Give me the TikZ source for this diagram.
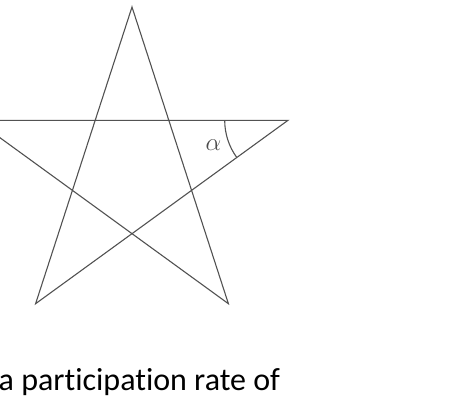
\documentclass[tikz,border=0pt]{standalone}
\usepackage{fontspec}
\newfontfamily\carlito[Ligatures={NoCommon},RawFeature={-clig}]{Carlito}
\newcommand\nolig{\kern0pt }
\begin{document}
\begin{tikzpicture}[x=1pt,y=-1pt,
  starline/.style={draw=black!68,line width=1.1pt,line join=miter},
  anglearc/.style={draw=black!68,line width=1.1pt},
  caption/.style={anchor=base west,inner sep=0pt,font=\carlito\fontsize{32}{38}\selectfont}]
\useasboundingbox (0,0) rectangle (465,404);
% regular pentagram: centre (132,171), radius 164 px
\coordinate (c) at (132,171);
\coordinate (top) at (132,7);
\coordinate (rt) at (288,120.3);
\coordinate (br) at (228.4,303.7);
\coordinate (bl) at (35.6,303.7);
\coordinate (lt) at (-24,120.3);
\begin{scope}
\clip (0,0) rectangle (465,404);
\draw[starline] (top) -- (bl) -- (rt) -- (lt) -- (br) -- cycle;
\end{scope}
\draw[anglearc] (rt) ++(180:63.3) arc[start angle=180,end angle=144,radius=63.3];
\node[text=black!70,font=\fontsize{25}{30}\selectfont] (alpha) at (213.5,145) {$\alpha$};
\node[caption] (cap) at (-1.5,390) {a part\nolig icipat\nolig ion rate of};
\end{tikzpicture}
\end{document}
